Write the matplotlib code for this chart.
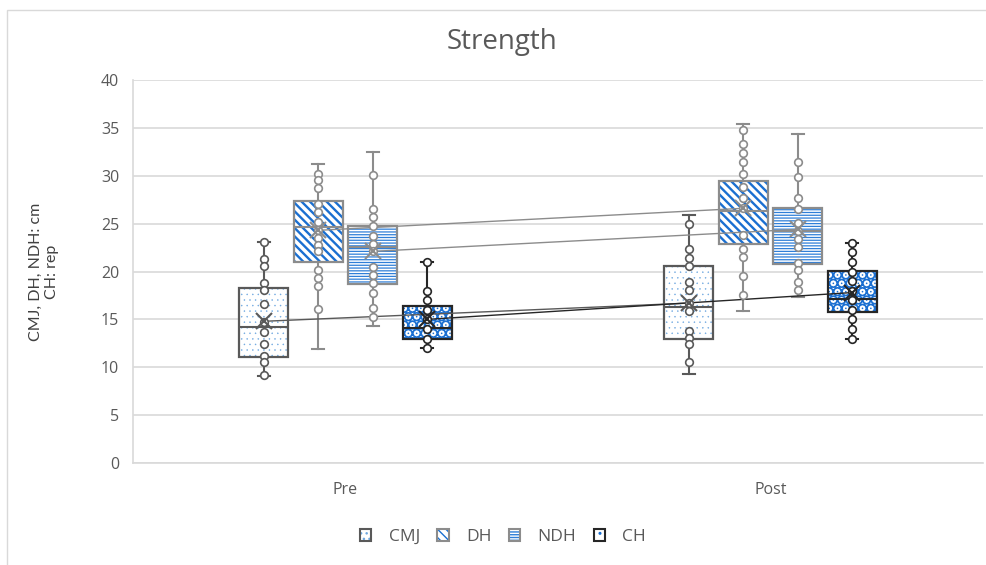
import numpy as np
import matplotlib
matplotlib.use("Agg")
import matplotlib.pyplot as plt
from matplotlib.patches import PathPatch, Patch
from matplotlib.legend_handler import HandlerTuple

plt.rcParams['font.family'] = ['Open Sans', 'DejaVu Sans']

categories = ["Pre", "Post"]
series = ["CMJ", "DH", "NDH", "CH"]

# box statistics: (pre, post)
q1 = {"CMJ": [11.1, 13.0], "DH": [21.0, 22.9], "NDH": [18.7, 20.8], "CH": [13.0, 15.8]}
q3 = {"CMJ": [18.3, 20.6], "DH": [27.4, 29.5], "NDH": [24.7, 26.6], "CH": [16.4, 20.1]}
med = {"CMJ": [14.2, 16.3], "DH": [24.6, 26.3], "NDH": [22.6, 24.2], "CH": [14.1, 17.1]}
mean = {"CMJ": [14.8, 16.7], "DH": [24.3, 26.6], "NDH": [22.1, 24.4], "CH": [15.0, 17.8]}
wlo = {"CMJ": [9.1, 9.3], "DH": [11.9, 15.9], "NDH": [14.3, 17.3], "CH": [12.0, 13.0]}
whi = {"CMJ": [23.1, 25.9], "DH": [31.2, 35.4], "NDH": [32.5, 34.4], "CH": [21.0, 23.0]}

# individual points (inner points)
pts = {
    "CMJ": [[23.1, 21.3, 20.6, 18.8, 18.1, 16.6, 14.7, 13.7, 12.4, 11.2, 10.5, 9.2],
            [25.0, 22.3, 21.4, 20.6, 18.9, 18.1, 16.7, 15.9, 13.8, 13.1, 12.4, 10.5]],
    "DH": [[30.2, 29.6, 28.7, 27.0, 26.2, 25.2, 24.3, 23.5, 22.8, 22.1, 20.2, 19.3, 18.5, 16.1],
           [34.8, 33.3, 32.4, 31.4, 30.2, 28.8, 27.7, 26.6, 23.8, 22.4, 21.5, 19.5, 17.5]],
    "NDH": [[30.1, 26.5, 25.7, 24.7, 23.7, 22.9, 22.1, 20.5, 19.6, 18.8, 17.8, 16.2, 15.3],
            [31.4, 29.9, 27.7, 26.5, 25.1, 24.2, 23.4, 22.6, 20.9, 20.2, 18.9, 18.1]],
    "CH": [[21, 18, 17, 16, 15, 14, 13, 12],
           [23, 22, 21, 20, 19, 18, 17, 16, 15, 14, 13]],
}

offsets = [-0.192, -0.064, 0.064, 0.192]
edge = {"CMJ": "#595959", "DH": "#8c8c8c", "NDH": "#8c8c8c", "CH": "#262626"}
hcolor = {"CMJ": "#6fa8e0", "DH": "#1a6fd1", "NDH": "#2f7fd8", "CH": "#1a6fd1"}
hatches = {"CMJ": "...", "DH": "\\\\\\\\", "NDH": "------", "CH": ".."}
hatch_lw = {"CMJ": 0.3, "DH": 1.7, "NDH": 0.9, "CH": 5.5}
width = 0.115

fig = plt.figure(figsize=(9.86, 5.65), dpi=100)
ax = fig.add_axes([133 / 986, 1 - 463 / 565, 850 / 986, 383 / 565])

for k, s in enumerate(series):
    stats = []
    for i in range(2):
        stats.append(dict(q1=q1[s][i], q3=q3[s][i], med=med[s][i], mean=mean[s][i],
                          whislo=wlo[s][i], whishi=whi[s][i], fliers=[]))
    pos = [i + offsets[k] for i in range(2)]
    with plt.rc_context({'hatch.linewidth': hatch_lw[s]}):
        b = ax.bxp(stats, positions=pos, widths=width, patch_artist=True,
                   showmeans=False, showfliers=False, manage_ticks=False,
                   boxprops=dict(facecolor="white", edgecolor=hcolor[s], hatch=hatches[s], linewidth=0),
                   medianprops=dict(color=edge[s], linewidth=1.5),
                   whiskerprops=dict(color=edge[s], linewidth=1.5),
                   capprops=dict(color=edge[s], linewidth=1.5),
                   capwidths=0.028, zorder=3)
    for box in b["boxes"]:
        ax.add_patch(PathPatch(box.get_path(), facecolor="none", edgecolor=edge[s],
                               linewidth=1.6, zorder=4))
    for i in range(2):
        y = pts[s][i]
        ax.plot([pos[i]] * len(y), y, "o", ms=5.5, mfc="white", mec=edge[s],
                mew=1.2, zorder=5)
    # mean markers and mean line
    ax.plot(pos, mean[s], "-", color=edge[s], lw=1.0, zorder=4.5)
    ax.plot(pos, mean[s], "x", color=edge[s], ms=11, mew=1.5, zorder=6)

ax.set_xlim(-0.5, 1.5)
ax.set_ylim(0, 40)
ax.set_yticks(range(0, 41, 5))
ax.set_xticks([0, 1])
ax.set_xticklabels(categories)
ax.tick_params(axis="both", length=0, labelsize=11.5, labelcolor="#595959", pad=10)
ax.tick_params(axis="x", pad=14)
ax.grid(axis="y", color="#d9d9d9", linewidth=1.2, zorder=0)
ax.set_axisbelow(True)
for side in ["top", "right"]:
    ax.spines[side].set_visible(False)
for side in ["bottom", "left"]:
    ax.spines[side].set_color("#d9d9d9")
    ax.spines[side].set_linewidth(1.2)

ax.set_ylabel("CMJ, DH, NDH: cm\nCH: rep", fontsize=11.5, family=["Lato", "DejaVu Sans"],
              color="#404040", labelpad=30)
fig.text(502 / 986, 1 - 42 / 565, "Strength", ha="center", va="center",
         fontsize=20, color="#595959")

handles = []
for s in series:
    with plt.rc_context({'hatch.linewidth': min(hatch_lw[s], 2.5)}):
        fillp = Patch(facecolor="white", edgecolor=hcolor[s], hatch=hatches[s], linewidth=0)
    outline = Patch(facecolor="none", edgecolor=edge[s], linewidth=1.5)
    handles.append((fillp, outline))
leg = fig.legend(handles, series, loc="center", bbox_to_anchor=(503 / 986, 1 - 537 / 565),
                 ncol=4, frameon=False, fontsize=12.5, handlelength=0.65, handleheight=0.65,
                 columnspacing=1.0, handletextpad=1.0,
                 handler_map={tuple: HandlerTuple(ndivide=1, pad=0)})
for t in leg.get_texts():
    t.set_color("#595959")

# outer chart border
fig.patches.append(plt.Rectangle((7 / 986, -0.01), 1.0, 1 - 10 / 565 + 0.01,
                                 transform=fig.transFigure, fill=False,
                                 edgecolor="#d9d9d9", linewidth=1))

fig.savefig("out.png", dpi=100)
